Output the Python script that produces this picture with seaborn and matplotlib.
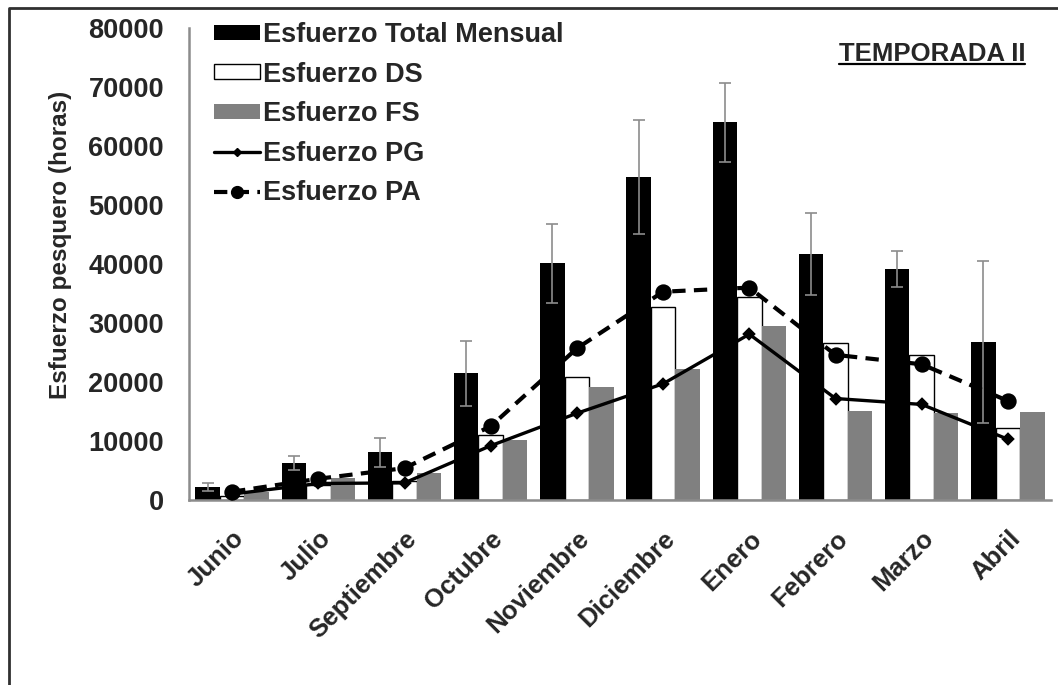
import numpy as np
import pandas as pd
import matplotlib
matplotlib.use("Agg")
import matplotlib.pyplot as plt
import matplotlib.transforms as mtransforms
from matplotlib.patches import Patch
from matplotlib.lines import Line2D
import seaborn as sns

# Monthly fishing effort (hours), temporada II
meses = ["Junio", "Julio", "Septiembre", "Octubre", "Noviembre",
         "Diciembre", "Enero", "Febrero", "Marzo", "Abril"]
total = [2200, 6300, 8100, 21500, 40100, 54800, 64000, 41700, 39100, 26800]
total_err = [700, 1150, 2450, 5500, 6700, 9650, 6700, 6900, 3050, 13700]
ds = [700, 2500, 3200, 11000, 20900, 32700, 34400, 26600, 24600, 12200]
fs = [1300, 3700, 4600, 10200, 19200, 22200, 29500, 15100, 14700, 14900]
pg = [1000, 2800, 2900, 9200, 14700, 19700, 28100, 17200, 16200, 10300]
pa = [1400, 3600, 5400, 12500, 25700, 35300, 36000, 24600, 23000, 16800]

bar_series = ["Esfuerzo Total Mensual", "Esfuerzo DS", "Esfuerzo FS"]
bar_colors = ["black", "white", "#808080"]

sns.set_style("white")
plt.rcParams["font.family"] = ["Liberation Sans", "DejaVu Sans"]
plt.rcParams["font.weight"] = "bold"

W, H = 1058, 685
fig = plt.figure(figsize=(W / 100, H / 100), dpi=100)
ax = fig.add_axes([189 / W, 1 - 500 / H, 862 / W, 472 / H])

bars_df = pd.DataFrame({
    "mes": meses * 3,
    "serie": np.repeat(bar_series, len(meses)),
    "valor": total + ds + fs,
})
sns.barplot(data=bars_df, x="mes", y="valor", hue="serie", order=meses,
            hue_order=bar_series, palette=bar_colors, saturation=1,
            width=0.85, gap=0, errorbar=None, legend=False, ax=ax)
for i, cont in enumerate(ax.containers):
    for p in cont.patches:
        if i == 1:
            p.set_edgecolor("black")
            p.set_linewidth(1.0)
        else:
            p.set_linewidth(0)

# error bars on the total effort bars
xs = [p.get_x() + p.get_width() / 2 for p in ax.containers[0].patches]
ax.errorbar(xs, total, yerr=total_err, fmt="none", ecolor="#8c8c8c",
            elinewidth=1.2, capsize=4, capthick=1.2, zorder=4)

# PG and PA effort lines
sns.pointplot(x=meses, y=pg, order=meses, color="black", markers="D",
              linestyles="-", errorbar=None, ax=ax,
              linewidth=2.4, markersize=5, zorder=5)
sns.pointplot(x=meses, y=pa, order=meses, color="black", markers="o",
              linestyles="--", errorbar=None, ax=ax,
              linewidth=3.0, markersize=9.5, zorder=6)
ax.lines[-1].set_dashes([3.2, 2.0])

# axes styling
ax.set_xlim(-0.5, len(meses) - 0.5)
ax.set_ylim(0, 80000)
ax.set_yticks(range(0, 80001, 10000))
ax.set_yticklabels([str(v) for v in range(0, 80001, 10000)],
                   fontsize=19.5, fontweight="bold")
ax.set_xticks(range(len(meses)))
ax.set_xticklabels(meses, fontsize=18.5, fontweight="bold", rotation=45,
                   ha="right", va="top", rotation_mode="anchor")
shift = mtransforms.ScaledTranslation(-5 / 100, 0, fig.dpi_scale_trans)
for lbl in ax.get_xticklabels():
    lbl.set_transform(lbl.get_transform() + shift)
ax.set_xticks(np.arange(-0.5, len(meses)), minor=True)
ax.tick_params(axis="x", which="major", length=0, pad=19)
ax.tick_params(axis="x", which="minor", length=6, width=1.2, color="#8c8c8c")
ax.tick_params(axis="y", length=7, width=1.2, color="#8c8c8c", pad=11)
for s in ["top", "right"]:
    ax.spines[s].set_visible(False)
for s in ["left", "bottom"]:
    ax.spines[s].set_color("#8c8c8c")
    ax.spines[s].set_linewidth(1.8)
ax.set_xlabel("")
ax.set_ylabel("Esfuerzo pesquero (horas)", fontsize=17.5, fontweight="bold")
ax.yaxis.set_label_coords(-0.136, 0.54)

# legend
handles = [
    Patch(facecolor="black", edgecolor="black", lw=0),
    Patch(facecolor="white", edgecolor="black", lw=1.0),
    Patch(facecolor="#808080", edgecolor="#808080", lw=0),
    Line2D([], [], color="black", lw=2.4, marker="D", markersize=4),
    Line2D([], [], color="black", lw=3.0, ls=(0, (3.2, 2.0)), marker="o",
           markersize=8.5),
]
labels = bar_series + ["Esfuerzo PG", "Esfuerzo PA"]
fig.legend(handles, labels, loc="upper left",
           bbox_to_anchor=(214 / W, 1 - 22 / H), frameon=False,
           prop={"size": 19.5, "weight": "bold"}, borderpad=0,
           borderaxespad=0, handlelength=1.7, handleheight=0.48,
           handletextpad=0.12, labelspacing=0.5)

# season title, underlined
title = ax.text(0.970, 0.930, "TEMPORADA II", transform=ax.transAxes,
                ha="right", va="baseline", fontsize=18.5, fontweight="bold")
fig.canvas.draw()
bb = title.get_window_extent()
bx, by = ax.transAxes.transform((0.970, 0.930))
fig.add_artist(Line2D([bb.x0 / W, bb.x1 / W],
                      [(by - 3) / H, (by - 3) / H], color="black", lw=1.6))

# chart area border (top and left edges visible)
fig.add_artist(Line2D([9 / W, 9 / W, 1.0], [0.0, 1 - 8 / H, 1 - 8 / H],
                      color="#303030", lw=2.0))

fig.savefig("out.png", dpi=100)
